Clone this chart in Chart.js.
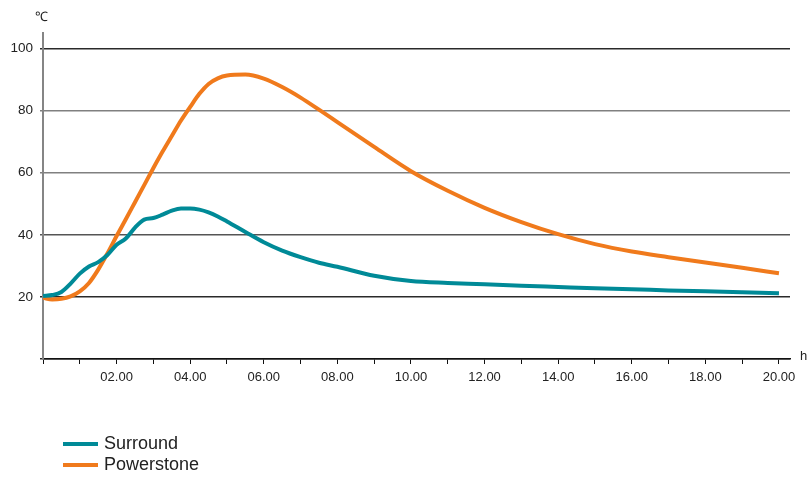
<!DOCTYPE html>
<html>
<head>
<meta charset="utf-8">
<script src="https://cdn.jsdelivr.net/npm/chart.js@4.4.1/dist/chart.umd.min.js"></script>
<style>
  html, body { margin: 0; padding: 0; background: #fff; }
  #wrap { position: relative; width: 808px; height: 477px; }
  #legend { position: absolute; left: 63px; top: 433px; font-family: Arial, "Liberation Sans", sans-serif; font-size: 18px; color: #222; }
  #legend .item { height: 21px; display: flex; align-items: center; }
  #legend .swatch { width: 35px; height: 4px; margin-right: 6px; }
</style>
</head>
<body>
<div id="wrap">
  <canvas id="chart" width="808" height="477"></canvas>
  <div id="legend"></div>
</div>
<script>
// Datos (horas / temperatura en grados C)
const hours = [0, 0.25, 0.5, 0.75, 1, 1.25, 1.5, 1.75, 2, 2.25, 2.5, 2.75, 3, 3.25, 3.5, 3.75,
               4, 4.25, 4.5, 4.75, 5, 5.5, 6, 6.5, 7, 7.5, 8, 9, 10, 11, 12, 13, 14, 15, 16, 17, 18, 19, 20];

const surround = [20.3, 20.6, 21.6, 24.3, 27.5, 29.8, 31.2, 33.5, 36.8, 38.8, 42.3, 44.9, 45.4, 46.5, 47.8, 48.5,
                  48.5, 48.1, 47.2, 45.9, 44.3, 40.9, 37.6, 34.9, 32.8, 31.0, 29.7, 26.8, 25.1, 24.5, 24.1, 23.6, 23.2, 22.8, 22.5, 22.1, 21.8, 21.5, 21.2];

const powerstone = [19.7, 19.2, 19.4, 20.2, 21.8, 24.5, 28.8, 34.0, 39.6, 45.0, 50.5, 56.0, 61.5, 66.8, 71.8, 76.8,
                    81.2, 85.4, 88.6, 90.4, 91.3, 91.6, 90.3, 87.6, 84.2, 80.3, 76.3, 68.3, 60.5, 54.2, 48.7, 44.1, 40.2, 37.0, 34.6, 32.8, 31.1, 29.4, 27.6];

const seriesNames = ["Surround", "Powerstone"];
const seriesColors = ["#008a97", "#f07a1c"];

const yTicks = [20, 40, 60, 80, 100];
const xLabelHours = [2, 4, 6, 8, 10, 12, 14, 16, 18, 20];

const FONT = "Arial, 'Liberation Sans', sans-serif";

function toPoints(vals) {
    return hours.map((h, i) => ({ x: h, y: vals[i] }));
}

// Unidades en los ejes (h y grados C)
const unitsPlugin = {
    id: "units",
    afterDraw(chart) {
        const c = chart.ctx;
        const x = chart.scales.x, y = chart.scales.y;
        c.save();
        c.fillStyle = "#222";
        c.font = "13px " + FONT;
        c.textBaseline = "middle";
        c.textAlign = "left";
        c.fillText("h", x.right + 10, y.bottom - 3);
        c.fillText("\u2103", x.left - 8, y.top - 16);
        c.restore();
    }
};

const ctx = document.getElementById("chart").getContext("2d");
const chart = new Chart(ctx, {
    type: "line",
    data: {
        datasets: [
            { label: seriesNames[0], data: toPoints(surround), borderColor: seriesColors[0], backgroundColor: seriesColors[0] },
            { label: seriesNames[1], data: toPoints(powerstone), borderColor: seriesColors[1], backgroundColor: seriesColors[1] }
        ]
    },
    options: {
        responsive: false,
        animation: false,
        layout: { padding: { top: 33, right: 18, bottom: 78, left: 0 } },
        elements: {
            point: { radius: 0 },
            line: { borderWidth: 4, tension: 0.4, cubicInterpolationMode: "monotone" }
        },
        plugins: {
            legend: { display: false },
            tooltip: { enabled: false }
        },
        scales: {
            x: {
                type: "linear",
                min: 0,
                max: 20.3,
                afterFit: (s) => { s.height = 40; },
                border: { display: true, color: "#111", width: 1.5 },
                grid: { drawOnChartArea: false, drawTicks: true, tickLength: 5, color: "#111" },
                ticks: {
                    stepSize: 1,
                    includeBounds: false,
                    autoSkip: false,
                    maxRotation: 0,
                    padding: 6,
                    color: "#222",
                    font: { family: FONT, size: 13 },
                    callback: (v) => xLabelHours.includes(v) ? String(v).padStart(2, "0") + ".00" : ""
                }
            },
            y: {
                min: 0,
                max: 105,
                afterFit: (s) => { s.width = 43; },
                border: { display: true, color: "#858585", width: 2 },
                grid: {
                    tickLength: 3,
                    lineWidth: 1.5,
                    color: (c) => {
                        const v = c.tick ? c.tick.value : 0;
                        if (v === 60 || v === 80) return "#808080";
                        if (v === 40) return "#555";
                        return "#2a2a2a";
                    }
                },
                ticks: {
                    stepSize: 20,
                    includeBounds: false,
                    padding: 7,
                    color: "#222",
                    font: { family: FONT, size: 13.5 },
                    callback: (v) => yTicks.includes(v) ? String(v) : ""
                }
            }
        }
    },
    plugins: [unitsPlugin]
});

// Leyenda HTML (una fila por serie)
const legendEl = document.getElementById("legend");
chart.data.datasets.forEach((ds) => {
    const item = document.createElement("div");
    item.className = "item";
    const sw = document.createElement("span");
    sw.className = "swatch";
    sw.style.background = ds.borderColor;
    const txt = document.createElement("span");
    txt.textContent = ds.label;
    item.appendChild(sw);
    item.appendChild(txt);
    legendEl.appendChild(item);
});
</script>
</body>
</html>
